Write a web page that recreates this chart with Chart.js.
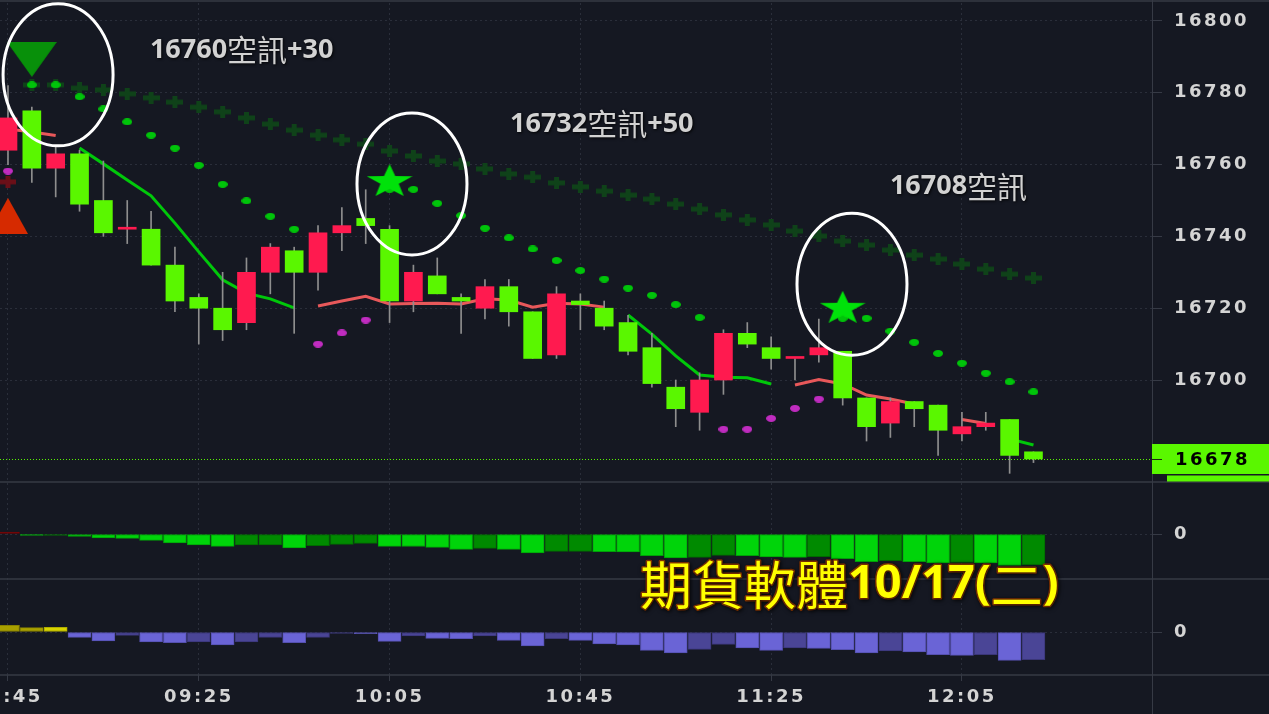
<!DOCTYPE html>
<html>
<head>
<meta charset="utf-8">
<script src="https://cdn.jsdelivr.net/npm/chart.js@4.4.0/dist/chart.umd.min.js"></script>
<style>
  html, body { margin: 0; padding: 0; background: #151822; overflow: hidden; }
  canvas { display: block; }
</style>
</head>
<body>
<canvas id="futures" width="1269" height="714"></canvas>
<script>
const futuresChart = document.getElementById('futures').getContext('2d');

// 5분봉 시간
const times = ['08:45','08:50','08:55','09:00','09:05','09:10','09:15','09:20','09:25','09:30','09:35',
  '09:40','09:45','09:50','09:55','10:00','10:05','10:10','10:15','10:20','10:25','10:30',
  '10:35','10:40','10:45','10:50','10:55','11:00','11:05','11:10','11:15','11:20','11:25',
  '11:30','11:35','11:40','11:45','11:50','11:55','12:00','12:05','12:10','12:15','12:20'];
const xTickIdx = [0, 8, 16, 24, 32, 40];
const priceTicks = [16700, 16720, 16740, 16760, 16780, 16800];

// OHLC
const opens  = [16764,16775,16759,16763,16750,16742,16742,16732,16723,16720,16716,
                16730,16736,16730,16741,16745,16742,16722,16729,16723,16720,16726,
                16719,16707,16722,16720,16716,16709,16698,16691,16700,16713,16709,
                16706,16707,16708,16695,16688,16694,16693,16685,16687,16689,16680];
const highs  = [16782,16776,16765,16764,16761,16750,16747,16737,16724,16730,16734,
                16738,16737,16743,16748,16753,16743,16732,16734,16724,16728,16728,
                16719,16726,16724,16722,16718,16713,16700,16702,16714,16716,16712,
                16706,16717,16708,16695,16695,16694,16693,16691,16691,16689,16680];
const lows   = [16760,16755,16751,16747,16740,16738,16732,16719,16710,16711,16714,
                16724,16713,16725,16736,16738,16716,16719,16724,16713,16717,16715,
                16706,16706,16714,16714,16707,16698,16687,16686,16696,16709,16703,
                16700,16705,16693,16683,16684,16687,16679,16683,16686,16674,16677];
const closes = [16773,16759,16763,16749,16741,16742,16732,16722,16720,16714,16730,
                16737,16730,16741,16743,16743,16722,16730,16724,16722,16726,16719,
                16706,16724,16721,16715,16708,16699,16692,16700,16713,16710,16706,
                16706,16709,16695,16687,16694,16692,16686,16687,16688,16679,16678];

// 이동평균 (하락 구간 / 상승 구간)
const maDown = [null,null,null,16764.6,16760.2,16755.7,16751.3,16743.7,16735.7,16727.9,16724.2,
                16722.6,16720.1,null,null,null,null,null,null,null,null,null,
                null,null,null,null,16718.1,16712.8,16706.7,16701.4,16700.8,16700.6,16698.9,
                null,null,null,null,null,null,null,null,null,16683.6,16681.9];
const maUp   = [16769.9,16769.1,16768.1,null,null,null,null,null,null,null,null,
                null,null,16720.6,16722.0,16723.3,16721.2,16721.3,16721.4,16721.2,16722.6,16722.3,
                16720.3,16721.4,16721.2,16720.3,null,null,null,null,null,null,null,
                16698.6,16700.1,16698.9,16695.8,16694.7,16693.3,null,16689.0,16687.9,null,null];

// SAR 점
const sarAbove = [null,16782.2,16782.2,16778.9,16775.5,16771.9,16768.2,16764.6,16759.8,16754.5,16749.9,
                  16745.6,16742.0,null,null,null,16753.1,16753.1,16749.2,16745.8,16742.3,16739.6,
                  16736.5,16733.3,16730.5,16728.1,16725.6,16723.6,16721.0,16717.4,null,null,null,
                  null,null,16717.2,16717.2,16713.6,16710.5,16707.4,16704.7,16701.9,16699.5,16696.7];
const sarBelow = [16758.2,null,null,null,null,null,null,null,null,null,null,
                  null,null,16710.0,16713.1,16716.7,null,null,null,null,null,null,
                  null,null,null,null,null,null,null,null,16686.3,16686.3,16689.3,
                  16692.1,16694.7,null,null,null,null,null,null,null,null,null];

// 상단 밴드 (+)
const bandUpper = [null,16782.2,16782.2,16781.3,16780.8,16779.7,16778.6,16777.4,16776.0,16774.7,16773.0,
                   16771.3,16769.6,16768.2,16766.9,16765.7,16763.8,16762.4,16761.0,16760.2,16758.8,16757.4,
                   16756.5,16754.9,16753.8,16752.6,16751.5,16750.4,16749.0,16747.6,16746.0,16744.6,16743.2,
                   16741.5,16740.1,16738.7,16737.6,16736.2,16734.8,16733.7,16732.3,16730.9,16729.5,16728.4];
const bandLowerMarks = [[0, 16755.2]];

// 신호 [봉 index, 가격]
const sellSignals = [[1, 16789.3]];
const buySignals = [[0, 16745.7]];
const starSignals = [[16, 16755.7], [35, 16720.4]];

// 보조지표 1, 2
const osc1 = [2,-1.3,-1.3,-2.3,-4,-4.3,-6.3,-9,-11,-12.3,-11,
              -11,-14,-11.7,-10.3,-9.3,-12.3,-12.5,-13.3,-15.3,-14.3,-15.3,
              -19,-17.3,-17.3,-17.7,-18,-21.7,-24,-23.3,-21.3,-21.7,-23,
              -23.3,-22.7,-24.7,-27.7,-26.7,-27.7,-29,-28.3,-29,-31.3,-31];
const osc2 = [6.7,4.3,4.7,-5.3,-9,-3.3,-10,-10.7,-10,-13,-10,
              -5.3,-10.7,-5.3,-1.3,-1.6,-9.3,-4,-6.3,-6.7,-4,-8.3,
              -14,-6.7,-8.3,-12,-13,-18.3,-21,-17.3,-12.3,-16,-18.3,
              -16,-16.3,-17.7,-21,-19,-20,-22.7,-23.3,-22.7,-28.3,-27.7];

// 주석
const circleMarks = [[2.10, 16785.0], [16.94, 16754.6], [35.39, 16726.7]];
const notes = [[5.95, 16791.9, '16760空訊+30'], [21.05, 16771.3, '16732空訊+50'], [36.98, 16754.0, '16708空訊']];
const stamp = [26.5, 47, '期貨軟體10/17(二)'];

const GRID = '#2a2e3a';
const LINE = '#363a45';
const TXT = '#d4d4d4';
const UP = '#ff1a4f';
const DOWN = '#5af700';

/* 마커 이미지 */
const makeCanvas = (w, h) => {
  const cv = document.createElement('canvas');
  cv.width = w; cv.height = h;
  return cv;
};
const makeDot = (color, w, h) => {
  const cv = makeCanvas(w, h);
  const c = cv.getContext('2d');
  c.fillStyle = color;
  c.beginPath();
  c.ellipse(w / 2, h / 2, w / 2, h / 2, 0, 0, Math.PI * 2);
  c.fill();
  return cv;
};
const makeCross = (color, w, h, t) => {
  const cv = makeCanvas(w, h);
  const c = cv.getContext('2d');
  c.fillStyle = color;
  c.fillRect(0, (h - t) / 2, w, t);
  c.fillRect((w - t) / 2, 0, t, h);
  return cv;
};
const makeTriangle = (color, w, h, down) => {
  const cv = makeCanvas(w, h);
  const c = cv.getContext('2d');
  c.fillStyle = color;
  c.beginPath();
  if (down) { c.moveTo(0, 0); c.lineTo(w, 0); c.lineTo(w / 2, h); }
  else { c.moveTo(w / 2, 0); c.lineTo(w, h); c.lineTo(0, h); }
  c.closePath();
  c.fill();
  return cv;
};
const makeStar = (color, w, h) => {
  const cv = makeCanvas(w, h);
  const c = cv.getContext('2d');
  const R = h / 1.81;
  c.translate(w / 2, h / 2 + R * 0.095);
  c.scale(1.36, 1);
  c.beginPath();
  for (let k = 0; k < 10; k++) {
    const a = -Math.PI / 2 + k * Math.PI / 5;
    const rad = k % 2 ? R * 0.4 : R;
    c.lineTo(Math.cos(a) * rad, Math.sin(a) * rad);
  }
  c.closePath();
  c.fillStyle = color;
  c.fill();
  return cv;
};

const greenDot = makeDot('#00c40a', 10, 7);
const purpleDot = makeDot('#c02cc0', 10, 7);
const darkCross = makeCross('#0f4219', 17, 12, 5);
const redCross = makeCross('#6a0f18', 17, 12, 5);
const sellTri = makeTriangle('#08900a', 50, 35, true);
const buyTri = makeTriangle('#d62a00', 40, 36, false);
const starImg = makeStar('#00e20a', 46, 32);

const pts = arr => arr.map((v, i) => ({ x: i, y: v }));
const pairs = arr => arr.map(([i, p]) => ({ x: i, y: p }));

// 히스토그램 색
const oscColors = (arr, posHi, posLo, negHi, negLo) => arr.map((v, i) => {
  const prev = i > 0 ? arr[i - 1] : null;
  if (v >= 0) return prev !== null && v > prev ? posHi : posLo;
  return prev === null || v < prev ? negHi : negLo;
});

/* 텍스트 */
const CJK_RUN = /[\u2e80-\u9fff\uff00-\uffef]+|[^\u2e80-\u9fff\uff00-\uffef]+/g;
const drawRuns = (c, text, x, y, latinFont, cjkFont, paint) => {
  let cx = x;
  text.match(CJK_RUN).forEach(run => {
    c.font = /[\u2e80-\u9fff]/.test(run) ? cjkFont : latinFont;
    paint(run, cx, y);
    cx += c.measureText(run).width;
  });
};

const overlay = {
  id: 'overlay',
  beforeDraw(chart) {
    chart.ctx.letterSpacing = '2.5px';
  },
  beforeDatasetsDraw(chart) {
    const c = chart.ctx;
    const { left, right } = chart.chartArea;
    const py = chart.scales.y.getPixelForValue(closes[closes.length - 1]);
    c.save();
    c.strokeStyle = DOWN;
    c.lineWidth = 1;
    c.setLineDash([1, 2]);
    c.beginPath();
    c.moveTo(left, py + 0.5);
    c.lineTo(right, py + 0.5);
    c.stroke();
    c.restore();
  },
  afterDraw(chart) {
    const c = chart.ctx;
    const { x, y, y2, y3 } = chart.scales;
    const right = chart.chartArea.right;
    c.save();
    c.letterSpacing = '0px';

    // 패널 구분선
    c.strokeStyle = LINE;
    c.lineWidth = 1.5;
    [1, y.bottom, y2.bottom, y3.bottom].forEach(yy => {
      c.beginPath(); c.moveTo(0, yy); c.lineTo(chart.width, yy); c.stroke();
    });
    c.lineWidth = 1;
    c.beginPath(); c.moveTo(right + 0.5, 0); c.lineTo(right + 0.5, chart.height); c.stroke();

    // 현재가 라벨
    const last = closes[closes.length - 1];
    const py = y.getPixelForValue(last);
    c.fillStyle = DOWN;
    c.fillRect(right, py - 15, chart.width - right, 30);
    c.fillRect(right + 15, py + 16.5, chart.width - right - 15, y.bottom - py - 17);
    c.strokeStyle = '#1d2a10';
    c.beginPath(); c.moveTo(right, py + 0.5); c.lineTo(right + 10, py + 0.5); c.stroke();
    c.fillStyle = '#000';
    c.font = 'bold 18px "DejaVu Sans"';
    c.letterSpacing = '2.5px';
    c.textBaseline = 'middle';
    c.fillText(String(last), right + 23, py + 1);
    c.letterSpacing = '0px';

    // 원
    c.strokeStyle = '#ffffff';
    c.lineWidth = 3;
    circleMarks.forEach(([i, p]) => {
      c.beginPath();
      c.ellipse(x.getPixelForValue(i), y.getPixelForValue(p), 55, 71, 0, 0, Math.PI * 2);
      c.stroke();
    });

    // 공매도 신호 메모
    c.textBaseline = 'middle';
    c.shadowColor = 'rgba(0,0,0,0.9)';
    c.shadowBlur = 3;
    c.shadowOffsetX = 1;
    c.shadowOffsetY = 1;
    c.fillStyle = '#d2d2d2';
    notes.forEach(([i, p, text]) => {
      drawRuns(c, text, x.getPixelForValue(i), y.getPixelForValue(p),
        'bold 27px "Open Sans"', '30px "Noto Sans CJK TC"',
        (t, tx, ty) => c.fillText(t, tx, ty));
    });

    // 날짜 도장
    c.shadowColor = 'rgba(0,0,0,0.7)';
    c.shadowBlur = 4;
    c.lineJoin = 'round';
    drawRuns(c, stamp[2], x.getPixelForValue(stamp[0]), y3.getPixelForValue(stamp[1]),
      'bold 47px "Open Sans"', '52px "Noto Sans CJK TC"',
      (t, tx, ty) => {
        c.strokeStyle = '#8a3600';
        c.lineWidth = 3;
        c.strokeText(t, tx, ty);
        c.fillStyle = '#ffff00';
        c.fillText(t, tx, ty);
      });
    c.restore();
  }
};

const tickFont = { family: 'DejaVu Sans', size: 18, weight: 'bold' };

new Chart(futuresChart, {
  type: 'bar',
  data: {
    datasets: [
      { type: 'line', label: 'star', data: pairs(starSignals), showLine: false, pointStyle: starImg, pointRadius: 5, yAxisID: 'y', order: 0 },
      { type: 'line', label: 'sell', data: pairs(sellSignals), showLine: false, pointStyle: sellTri, pointRadius: 5, yAxisID: 'y', order: 0 },
      { type: 'line', label: 'buy', data: pairs(buySignals), showLine: false, pointStyle: buyTri, pointRadius: 5, yAxisID: 'y', order: 0 },
      { type: 'line', label: 'sarAbove', data: pts(sarAbove), showLine: false, pointStyle: greenDot, pointRadius: 4, yAxisID: 'y', order: 1 },
      { type: 'line', label: 'sarBelow', data: pts(sarBelow), showLine: false, pointStyle: purpleDot, pointRadius: 4, yAxisID: 'y', order: 1 },
      {
        label: 'body',
        data: opens.map((o, i) => ({ x: i, y: [Math.min(o, closes[i]), Math.max(o, closes[i])] })),
        backgroundColor: opens.map((o, i) => closes[i] >= o ? UP : DOWN),
        borderWidth: 0,
        barThickness: 18,
        minBarLength: 2,
        grouped: false,
        yAxisID: 'y',
        order: 2
      },
      {
        label: 'wick',
        data: lows.map((l, i) => ({ x: i, y: [l, highs[i]] })),
        backgroundColor: '#8e8e8e',
        borderWidth: 0,
        barThickness: 1,
        grouped: false,
        yAxisID: 'y',
        order: 3
      },
      { type: 'line', label: 'maDown', data: pts(maDown), borderColor: '#00c80a', borderWidth: 3, pointRadius: 0, spanGaps: false, yAxisID: 'y', order: 4 },
      { type: 'line', label: 'maUp', data: pts(maUp), borderColor: '#e8585a', borderWidth: 3, pointRadius: 0, spanGaps: false, yAxisID: 'y', order: 4 },
      { type: 'line', label: 'band', data: pts(bandUpper), showLine: false, pointStyle: darkCross, pointRadius: 4, yAxisID: 'y', order: 5 },
      { type: 'line', label: 'bandLow', data: pairs(bandLowerMarks), showLine: false, pointStyle: redCross, pointRadius: 4, yAxisID: 'y', order: 5 },
      {
        label: 'osc1',
        data: pts(osc1),
        backgroundColor: oscColors(osc1, '#c00000', '#a00000', '#00d40a', '#008a00'),
        borderColor: oscColors(osc1, '#800000', '#700000', '#00a008', '#006a00'),
        borderWidth: 1,
        borderSkipped: false,
        barThickness: 23,
        grouped: false,
        yAxisID: 'y2',
        order: 6
      },
      {
        label: 'osc2',
        data: pts(osc2),
        backgroundColor: oscColors(osc2, '#d8d400', '#a8a000', '#6a64d6', '#4a4596'),
        borderColor: oscColors(osc2, '#b0ac00', '#888200', '#5550b0', '#3a3678'),
        borderWidth: 1,
        borderSkipped: false,
        barThickness: 23,
        grouped: false,
        yAxisID: 'y3',
        order: 6
      }
    ]
  },
  options: {
    responsive: false,
    animation: false,
    events: [],
    layout: { autoPadding: false, padding: { top: 3, left: 0, right: 0, bottom: 0 } },
    plugins: {
      legend: { display: false },
      tooltip: { enabled: false },
      title: { display: false }
    },
    scales: {
      x: {
        type: 'linear',
        position: 'bottom',
        min: -0.335,
        max: 47.97,
        offset: false,
        afterBuildTicks: s => { s.ticks = xTickIdx.map(v => ({ value: v })); },
        afterFit: s => { s.height = 39; s.paddingLeft = 0; s.paddingRight = 0; },
        ticks: { callback: v => times[v], color: TXT, font: tickFont, padding: 6, maxRotation: 0, autoSkip: false },
        grid: { color: GRID, offset: false, tickColor: LINE, tickLength: 6 },
        border: { display: false, dash: [2, 3] }
      },
      y: {
        position: 'right',
        stack: 'panes',
        stackWeight: 479,
        weight: 1,
        min: 16671.59,
        max: 16805.01,
        afterBuildTicks: s => { s.ticks = priceTicks.map(v => ({ value: v })); },
        afterFit: s => { s.width = 117; s.paddingTop = 0; s.paddingBottom = 0; },
        ticks: { callback: v => String(v), color: TXT, font: tickFont, padding: 12 },
        grid: { color: GRID, tickColor: LINE, tickLength: 10 },
        border: { display: false, dash: [2, 3] }
      },
      y2: {
        position: 'right',
        stack: 'panes',
        stackWeight: 97,
        weight: 2,
        min: -45,
        max: 52,
        afterBuildTicks: s => { s.ticks = [{ value: 0 }]; },
        afterFit: s => { s.width = 117; s.paddingTop = 0; s.paddingBottom = 0; },
        ticks: { callback: v => String(v), color: TXT, font: tickFont, padding: 12 },
        grid: { color: GRID, tickColor: LINE, tickLength: 10 },
        border: { display: false, dash: [2, 3] }
      },
      y3: {
        position: 'right',
        stack: 'panes',
        stackWeight: 96,
        weight: 3,
        min: -43,
        max: 53,
        afterBuildTicks: s => { s.ticks = [{ value: 0 }]; },
        afterFit: s => { s.width = 117; s.paddingTop = 0; s.paddingBottom = 0; },
        ticks: { callback: v => String(v), color: TXT, font: tickFont, padding: 12 },
        grid: { color: GRID, tickColor: LINE, tickLength: 10 },
        border: { display: false, dash: [2, 3] }
      }
    }
  },
  plugins: [overlay]
});
</script>
</body>
</html>
